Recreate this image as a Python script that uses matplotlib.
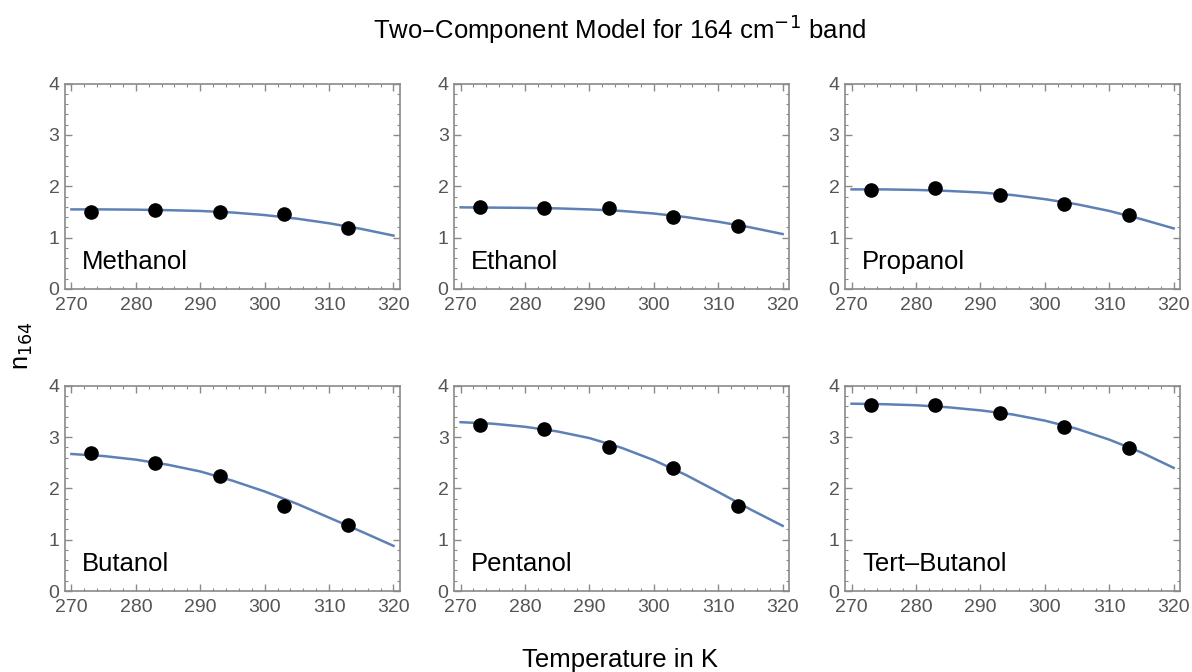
import matplotlib
matplotlib.use('Agg')
import matplotlib.pyplot as plt
from matplotlib.ticker import MultipleLocator

plt.rcParams['font.family'] = ['Liberation Sans', 'DejaVu Sans']

# measured temperatures and n_164 values
temps = [273, 283, 293, 303, 313]
names = ['Methanol', 'Ethanol', 'Propanol', 'Butanol', 'Pentanol', 'Tert\u2013Butanol']
n_meth = [1.50, 1.53, 1.50, 1.47, 1.18]
n_eth = [1.60, 1.57, 1.57, 1.41, 1.23]
n_prop = [1.92, 1.97, 1.83, 1.65, 1.44]
n_but = [2.68, 2.49, 2.24, 1.66, 1.28]
n_pent = [3.24, 3.16, 2.81, 2.40, 1.66]
n_tbut = [3.62, 3.62, 3.46, 3.20, 2.78]

# fitted two-component model curves
t_fit = [270, 275, 280, 285, 290, 295, 300, 305, 310, 315, 320]
f_meth = [1.55, 1.55, 1.545, 1.535, 1.52, 1.49, 1.44, 1.37, 1.28, 1.17, 1.04]
f_eth = [1.59, 1.585, 1.58, 1.57, 1.55, 1.52, 1.47, 1.40, 1.31, 1.20, 1.07]
f_prop = [1.94, 1.94, 1.93, 1.91, 1.88, 1.83, 1.75, 1.65, 1.52, 1.36, 1.18]
f_but = [2.67, 2.63, 2.56, 2.46, 2.33, 2.15, 1.94, 1.70, 1.43, 1.16, 0.88]
f_pent = [3.29, 3.26, 3.20, 3.11, 2.98, 2.79, 2.55, 2.26, 1.93, 1.59, 1.27]
f_tbut = [3.65, 3.64, 3.62, 3.58, 3.52, 3.44, 3.32, 3.16, 2.95, 2.70, 2.40]

pts = [n_meth, n_eth, n_prop, n_but, n_pent, n_tbut]
fits = [f_meth, f_eth, f_prop, f_but, f_pent, f_tbut]

fig = plt.figure(figsize=(11.92, 6.72), dpi=100)
lefts = [0.0545, 0.381, 0.709]
bottoms = [0.570, 0.1205]
w, h = 0.281, 0.3055
frame = '#8a8a8a'
for i in range(6):
  ax = fig.add_axes([lefts[i % 3], bottoms[i // 3], w, h])
  ax.plot(t_fit, fits[i], color='#5E81B5', lw=1.8, zorder=2)
  ax.plot(temps, pts[i], 'o', color='black', ms=9.5, zorder=3)
  ax.set_xlim(269, 321)
  ax.set_ylim(0, 4)
  ax.xaxis.set_major_locator(MultipleLocator(10))
  ax.xaxis.set_minor_locator(MultipleLocator(2))
  ax.yaxis.set_major_locator(MultipleLocator(1))
  ax.yaxis.set_minor_locator(MultipleLocator(0.2))
  ax.tick_params(which='both', direction='in', top=True, right=True, color=frame)
  ax.tick_params(which='major', length=5, width=1, labelsize=14, labelcolor='#555555')
  ax.tick_params(axis='x', which='major', pad=5.5)
  ax.tick_params(axis='y', which='major', pad=4)
  ax.tick_params(which='minor', length=2.5, width=0.8)
  for s in ax.spines.values():
    s.set_color(frame)
    s.set_linewidth(1.2)
  ax.text(0.05, 0.13, names[i], transform=ax.transAxes, fontsize=18.5, va='center', ha='left')

fig.text(0.52, 0.957, 'Two\u2013Component Model for 164 cm$^{-1}$ band', fontsize=18.5, ha='center', va='center')
fig.text(0.52, 0.018, 'Temperature in K', fontsize=18.5, ha='center', va='center')
fig.text(0.019, 0.485, 'n$_{164}$', fontsize=18, ha='center', va='center', rotation=90)

fig.savefig('out.png', dpi=100)
